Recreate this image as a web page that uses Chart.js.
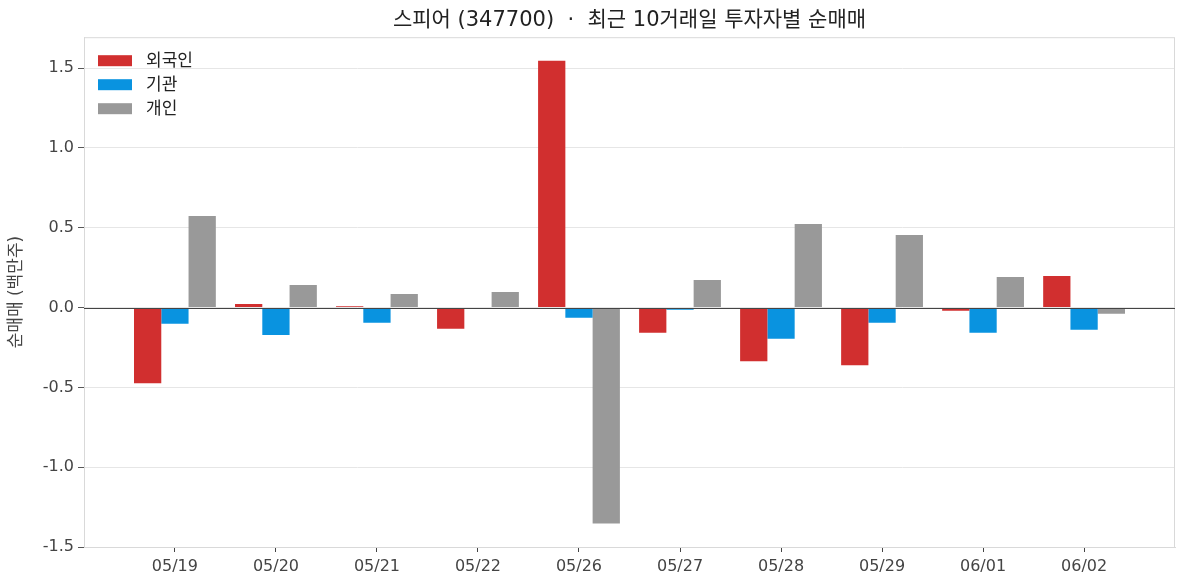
<!DOCTYPE html>
<html>
<head>
<meta charset="utf-8">
<script src="https://cdn.jsdelivr.net/npm/chart.js@4"></script>
<style>
  html, body { margin: 0; padding: 0; background: #fff; }
  #wrap { width: 1187px; height: 587px; }
</style>
</head>
<body>
<div id="wrap"><canvas id="flowChart" width="1187" height="587"></canvas></div>
<script>
const DATES   = ['05/19', '05/20', '05/21', '05/22', '05/26', '05/27', '05/28', '05/29', '06/01', '06/02'];
const FOREIGN = [-0.474, 0.022, 0.009, -0.133, 1.546, -0.158, -0.336, -0.361, -0.020, 0.198];
const INST    = [-0.102, -0.171, -0.095, 0.000, -0.064, -0.014, -0.196, -0.095, -0.158, -0.139];
const RETAIL  = [0.574, 0.141, 0.085, 0.097, -1.352, 0.173, 0.524, 0.455, 0.191, -0.039];
const Y_TICKS = [-1.5, -1.0, -0.5, 0.0, 0.5, 1.0, 1.5];

const FONT = "'DejaVu Sans', 'Noto Sans CJK KR', sans-serif";

const SERIES = [
    { label: '외국인', values: FOREIGN, color: '#d12f2f' },
    { label: '기관',   values: INST,    color: '#0993e0' },
    { label: '개인',   values: RETAIL,  color: '#999999' },
];

// frame round the plot, zero line on top of bars, legend box inside the plot
const framePlugin = {
    id: 'frame',
    afterDatasetsDraw(chart) {
        const { ctx, chartArea: a, scales } = chart;
        ctx.save();
        ctx.strokeStyle = '#d9d9d9';
        ctx.lineWidth = 1;
        ctx.strokeRect(a.left + 0.5, a.top + 0.5, a.right - a.left - 1, a.bottom - a.top);

        const y0 = Math.round(scales.y.getPixelForValue(0)) + 0.5;
        ctx.strokeStyle = '#444';
        ctx.lineWidth = 1.2;
        ctx.beginPath();
        ctx.moveTo(a.left, y0);
        ctx.lineTo(a.right, y0);
        ctx.stroke();

        ctx.font = `17px ${FONT}`;
        ctx.textBaseline = 'middle';
        chart.data.datasets.forEach((ds, i) => {
            const y = a.top + 24 + i * 24;
            ctx.fillStyle = ds.backgroundColor;
            ctx.fillRect(a.left + 14, y - 6, 34, 11);
            ctx.fillStyle = '#222';
            ctx.fillText(ds.label, a.left + 62, y);
        });
        ctx.restore();
    }
};

new Chart(document.getElementById('flowChart').getContext('2d'), {
    type: 'bar',
    data: {
        datasets: SERIES.map(s => ({
            label: s.label,
            data: s.values.map((v, i) => ({ x: i, y: v })),
            backgroundColor: s.color,
            borderWidth: 0,
            barPercentage: 1.0,
            categoryPercentage: 0.81,
        })),
    },
    options: {
        responsive: false,
        animation: false,
        layout: { padding: { left: 0, right: 12, top: 0, bottom: 0 } },
        plugins: {
            legend: { display: false },
            tooltip: { enabled: false },
            title: {
                display: true,
                fullSize: false,
                text: '스피어 (347700)  ·  최근 10거래일 투자자별 순매매',
                color: '#222',
                font: { family: FONT, size: 21, weight: 'normal' },
                padding: { top: 8, bottom: 4 },
            },
        },
        scales: {
            x: {
                type: 'linear',
                offset: false,
                min: -0.9,
                max: 9.9,
                afterBuildTicks: axis => { axis.ticks = DATES.map((_, i) => ({ value: i })); },
                afterFit: scale => { scale.height = 40; },
                grid: { offset: false, drawOnChartArea: false, tickLength: 5, tickColor: '#444' },
                border: { color: '#d9d9d9' },
                ticks: {
                    autoSkip: false,
                    maxRotation: 0,
                    padding: 5,
                    color: '#444',
                    font: { family: FONT, size: 16 },
                    callback: v => DATES[v] ?? '',
                },
            },
            y: {
                min: -1.5,
                max: 1.694,
                afterBuildTicks: axis => { axis.ticks = Y_TICKS.map(v => ({ value: v })); },
                afterFit: scale => { scale.width = 84; },
                grid: { color: '#e6e6e6', tickLength: 6, tickColor: '#555' },
                border: { color: '#d9d9d9' },
                ticks: {
                    padding: 4,
                    color: '#444',
                    font: { family: FONT, size: 16 },
                    callback: v => v.toFixed(1),
                },
                title: {
                    display: true,
                    text: '순매매 (백만주)',
                    color: '#444',
                    font: { family: FONT, size: 17 },
                    padding: { top: 6, bottom: 0 },
                },
            },
        },
    },
    plugins: [framePlugin],
});
</script>
</body>
</html>
